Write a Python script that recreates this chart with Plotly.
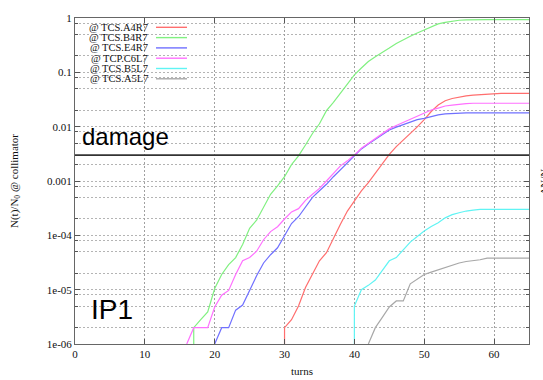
import plotly.graph_objects as go

# ---------------- data ----------------
series_names = ["@ TCS.A4R7", "@ TCS.B4R7", "@ TCS.E4R7", "@ TCP.C6L7", "@ TCS.B5L7", "@ TCS.A5L7"]
series_colors = ["#ff6e6e", "#80f080", "#7070ff", "#ff70ff", "#60f4f4", "#a8a8a8"]

red_turns = [30] + list(range(30, 66))
red_vals = [1e-6, 2e-6, 2.8e-6, 5e-6, 1.1e-5, 2e-5, 3.4e-5, 4.8e-5, 9e-5, 1.6e-4, 2.8e-4,
            4.2e-4, 6.6e-4, 9.3e-4, 1.4e-3, 2.1e-3, 3.1e-3, 4.3e-3, 5.6e-3, 7.5e-3, 9.9e-3,
            0.0135, 0.019, 0.025, 0.030, 0.033, 0.0355, 0.037, 0.038, 0.039, 0.0395,
            0.041, 0.041, 0.041, 0.041, 0.041, 0.041]

green_turns = [17] + list(range(17, 66))
green_vals = [1e-6, 2e-6, 2.8e-6, 3.9e-6, 1.05e-5, 1.9e-5, 2.9e-5, 3.9e-5, 6.8e-5, 1.35e-4,
              1.9e-4, 3.3e-4, 5.7e-4, 8.1e-4, 1.2e-3, 2.0e-3, 2.9e-3, 4.6e-3, 7.5e-3, 0.0113,
              0.0197, 0.028, 0.042, 0.06, 0.09, 0.12, 0.158, 0.194, 0.23, 0.28,
              0.34, 0.40, 0.46, 0.53, 0.60, 0.69, 0.78, 0.83, 0.88, 0.91,
              0.92, 0.93, 0.93, 0.93, 0.93, 0.93, 0.93, 0.93, 0.93, 0.93]

blue_turns = list(range(20, 66))
blue_vals = [1e-6, 2e-6, 2e-6, 4.2e-6, 5.2e-6, 9.7e-6, 1.8e-5, 3.1e-5, 4.4e-5, 5.9e-5,
             1.02e-4, 1.65e-4, 2.2e-4, 3.3e-4, 5.0e-4, 6.6e-4, 8.7e-4, 1.2e-3, 1.6e-3, 2.1e-3,
             2.9e-3, 3.9e-3, 4.8e-3, 5.9e-3, 7.2e-3, 8.7e-3, 9.8e-3, 0.011, 0.0123, 0.0135,
             0.0142, 0.0155, 0.0165, 0.0172, 0.0176, 0.0179, 0.0179, 0.0179, 0.0179, 0.0179,
             0.0179, 0.0179, 0.0179, 0.0179, 0.0179, 0.0179]

magenta_turns = list(range(16, 66))
magenta_vals = [1e-6, 2e-6, 2e-6, 2e-6, 4.8e-6, 7.9e-6, 9.7e-6, 1.9e-5, 3.4e-5, 3.9e-5,
                5.1e-5, 8.3e-5, 1.17e-4, 1.44e-4, 2.0e-4, 2.7e-4, 3.1e-4, 4.4e-4, 5.7e-4, 7.3e-4,
                1.0e-3, 1.4e-3, 1.9e-3, 2.35e-3, 3.0e-3, 4.0e-3, 4.9e-3, 6.0e-3, 7.4e-3, 9.1e-3,
                0.0105, 0.012, 0.0138, 0.0159, 0.0182, 0.0203, 0.022, 0.024, 0.025, 0.026,
                0.0265, 0.027, 0.027, 0.027, 0.027, 0.027, 0.027, 0.027, 0.027, 0.027]

cyan_turns = [40] + list(range(40, 66))
cyan_vals = [1e-6, 5e-6, 1e-5, 1.2e-5, 1.5e-5, 2.2e-5, 3.4e-5, 3.9e-5, 5.3e-5, 7.5e-5, 9.5e-5,
             1.2e-4, 1.45e-4, 1.7e-4, 2.1e-4, 2.4e-4, 2.6e-4, 2.8e-4, 2.9e-4, 3.0e-4, 3.0e-4,
             3.0e-4, 3.0e-4, 3.0e-4, 3.0e-4, 3.0e-4, 3.0e-4]

gray_turns = list(range(42, 66))
gray_vals = [1e-6, 2e-6, 3.1e-6, 4.8e-6, 6.2e-6, 6.2e-6, 1.28e-5, 1.55e-5, 1.9e-5, 2.1e-5,
             2.3e-5, 2.6e-5, 2.85e-5, 3.1e-5, 3.3e-5, 3.4e-5, 3.55e-5, 3.8e-5, 3.8e-5, 3.8e-5,
             3.8e-5, 3.8e-5, 3.8e-5, 3.8e-5]

damage_level = 3e-3

x_tickvals = [0, 10, 20, 30, 40, 50, 60]
y_tickvals = [1, 0.1, 0.01, 0.001, 1e-4, 1e-5, 1e-6]
y_ticktext = ["1", "0.1", "0.01", "0.001", "1e-04", "1e-05", "1e-06"]
y_minorvals = [m * 10.0 ** e for e in range(-6, 0) for m in (2, 5, 8)]

all_turns = [red_turns, green_turns, blue_turns, magenta_turns, cyan_turns, gray_turns]
all_vals = [red_vals, green_vals, blue_vals, magenta_vals, cyan_vals, gray_vals]

# ---------------- figure ----------------
SERIF = "Liberation Serif, Times New Roman, serif"
SANS = "Liberation Sans, Arial, sans-serif"

fig = go.Figure()
for name, col, xs, ys in zip(series_names, series_colors, all_turns, all_vals):
    fig.add_trace(go.Scatter(x=xs, y=ys, mode="lines", name=name,
                             line=dict(color=col, width=1.2), showlegend=False))

# damage line
fig.add_shape(type="line", xref="paper", x0=0, x1=1, yref="y", y0=damage_level, y1=damage_level,
              line=dict(color="#333333", width=1.6), layer="above")

PL, PR, PT, PB = 75, 529, 12, 344.5
W, H = 543, 380
pw, ph = PR - PL, PB - PT


def px2paper_x(px):
    return (px - PL) / pw


def py2paper_y(py):
    return (PB - py) / ph


annotations = []
# manual legend (text then line sample, gnuplot style)
legend_rows = [21.5, 32, 42.5, 53, 63.5, 74]
for name, col, ry in zip(series_names, series_colors, legend_rows):
    annotations.append(dict(x=px2paper_x(150), y=py2paper_y(ry), xref="paper", yref="paper",
                            text=name, showarrow=False, xanchor="right", yanchor="middle",
                            font=dict(family=SERIF, size=10.5, color="#111111")))
    fig.add_shape(type="line", xref="paper", yref="paper",
                  x0=px2paper_x(156), x1=px2paper_x(187),
                  y0=py2paper_y(ry), y1=py2paper_y(ry),
                  line=dict(color=col, width=1.4))

annotations.append(dict(x=px2paper_x(80), y=py2paper_y(149), xref="paper", yref="paper",
                        text="damage", showarrow=False, xanchor="left", yanchor="bottom",
                        font=dict(family=SANS, size=24, color="#000000")))
annotations.append(dict(x=px2paper_x(89), y=py2paper_y(309), xref="paper", yref="paper",
                        text="IP1", showarrow=False, xanchor="left", yanchor="middle",
                        font=dict(family=SANS, size=28, color="#000000")))
annotations.append(dict(x=px2paper_x(15), y=0.5, xref="paper", yref="paper",
                        text="N(t)/N<sub>0</sub> @ collimator", showarrow=False, textangle=-90,
                        xanchor="center", yanchor="middle",
                        font=dict(family=SERIF, size=11, color="#111111")))
annotations.append(dict(x=0.5, y=py2paper_y(372), xref="paper", yref="paper",
                        text="turns", showarrow=False, xanchor="center", yanchor="middle",
                        font=dict(family=SERIF, size=11, color="#111111")))
annotations.append(dict(x=px2paper_x(544), y=py2paper_y(179), xref="paper", yref="paper",
                        text="ΔN/N", showarrow=False, textangle=-90,
                        xanchor="center", yanchor="middle",
                        font=dict(family=SERIF, size=11, color="#111111")))

grid_color = "#b4b4b4"
grid_dash = "2px,2px"
fig.update_layout(
    width=W, height=H,
    margin=dict(l=PL, r=W - PR, t=PT, b=H - PB, pad=0),
    paper_bgcolor="white", plot_bgcolor="white",
    annotations=annotations,
    font=dict(family=SERIF, size=11, color="#111111"),
    xaxis=dict(range=[0, 65], tickvals=x_tickvals, ticks="inside", ticklen=5,
               tickcolor="#555555", showline=True, linecolor="#666666", linewidth=1,
               mirror="ticks", showgrid=True, gridcolor="#a0a0a0", griddash=grid_dash,
               gridwidth=1, zeroline=False, tickfont=dict(family=SERIF, size=11)),
    yaxis=dict(type="log", range=[-6, 0], tickvals=y_tickvals, ticktext=y_ticktext,
               ticks="inside", ticklen=5, tickcolor="#555555", showline=True,
               linecolor="#666666", linewidth=1, mirror="ticks", showgrid=True,
               gridcolor=grid_color, griddash=grid_dash, gridwidth=1, zeroline=False,
               tickfont=dict(family=SERIF, size=11),
               minor=dict(tickmode="array", tickvals=y_minorvals, showgrid=True,
                          gridcolor=grid_color, griddash=grid_dash, gridwidth=1,
                          ticks="inside", ticklen=3, tickcolor="#555555")),
)

fig.write_html("out.html")
